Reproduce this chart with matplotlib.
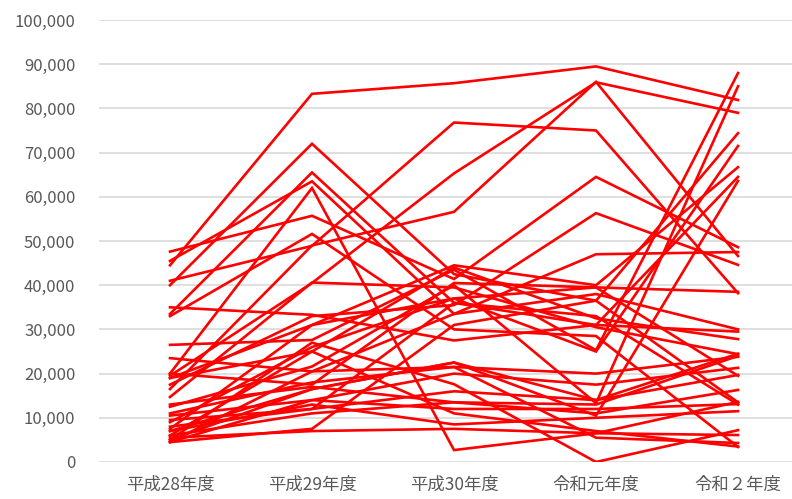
import matplotlib.pyplot as plt
from matplotlib.ticker import FuncFormatter

plt.rcParams['font.family'] = ['Noto Sans CJK JP', 'DejaVu Sans']

categories = ['平成28年度', '平成29年度', '平成30年度', '令和元年度', '令和２年度']

# one row per series (approximate)
series = [
    [44500, 83300, 85700, 89500, 81900],
    [40000, 72000, 42500, 36500, 74400],
    [33500, 65500, 36000, 31000, 29500],
    [20000, 62000, 2700, 6500, 6100],
    [41000, 48900, 76800, 75000, 38200],
    [19500, 40500, 65300, 85900, 79000],
    [16500, 49000, 56600, 86000, 46600],
    [47600, 55700, 41400, 64500, 48600],
    [17500, 33000, 35500, 56300, 44600],
    [26500, 27600, 43500, 25300, 88000],
    [12500, 21600, 40000, 13300, 85000],
    [9000, 26000, 37000, 25000, 71500],
    [7500, 31000, 44500, 40000, 66700],
    [35000, 33300, 27500, 31000, 64500],
    [5000, 16500, 22500, 10500, 63600],
    [45500, 63500, 33500, 47000, 47500],
    [20000, 17500, 40500, 39500, 38500],
    [23500, 20500, 33500, 38000, 30000],
    [19000, 25000, 44000, 32500, 27800],
    [14700, 40600, 39500, 30500, 24400],
    [11000, 18000, 21500, 20000, 23800],
    [10500, 14000, 20000, 17500, 21300],
    [8000, 12000, 16000, 14000, 19700],
    [6000, 11000, 13500, 11000, 16300],
    [5500, 7000, 7500, 6500, 13600],
    [4500, 14000, 12000, 12000, 13100],
    [7000, 13000, 8500, 10000, 11500],
    [5000, 27000, 17600, 0, 7200],
    [33000, 51600, 30000, 28500, 3400],
    [4500, 20500, 21500, 5500, 4300],
    [6000, 25000, 11000, 7000, 3500],
    [9500, 12000, 36000, 33000, 13000],
    [13000, 17000, 13500, 13000, 24000],
    [4500, 7500, 31000, 36500, 13500],
    [19000, 31000, 37000, 39500, 19500],
    [7000, 16500, 22500, 14000, 24500],
]

fig = plt.figure(figsize=(7.92, 4.99), dpi=100)
ax = fig.add_axes([99 / 792, 1 - 462 / 499, 693 / 792, 442 / 499])

x = range(len(categories))
for vals in series:
    ax.plot(x, vals, color='#FF0000', lw=1.9, solid_joinstyle='miter', zorder=3)

ax.set_xlim(-0.5, 4.38)
ax.set_ylim(0, 100000)
ax.set_yticks(range(0, 100001, 10000))
ax.yaxis.set_major_formatter(FuncFormatter(lambda v, p: f'{int(v):,}'))
ax.set_xticks(list(x))
ax.set_xticklabels(categories)

ax.grid(axis='y', color='#d9d9d9', lw=1.2, zorder=0)
for s in ax.spines.values():
    s.set_visible(False)
ax.tick_params(axis='both', length=0, colors='#595959')
ax.tick_params(axis='y', pad=17, labelsize=12)
ax.tick_params(axis='x', pad=10, labelsize=12.5)

fig.savefig('out.png', dpi=100)
